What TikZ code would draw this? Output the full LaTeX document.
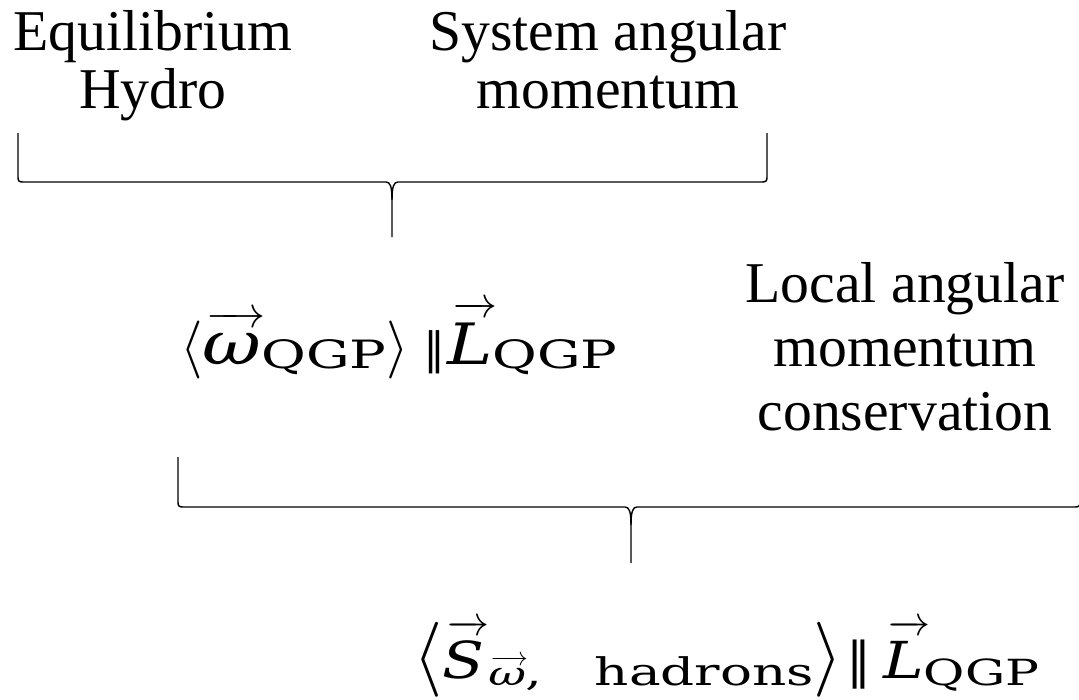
\documentclass[tikz,border=0pt]{standalone}
\usepackage{fontspec}
\DeclareFontShape{OMS}{cmsy}{m}{n}{<->cmsy10}{}
\setmainfont{Liberation Serif}
\newfontfamily\mfont[FakeStretch=1.4]{DejaVu Serif}
\newfontfamily\mifont[FakeStretch=1.2]{DejaVu Serif}
\newfontfamily\parfont{DejaVu Sans}
\newsavebox\vbx
% arrow over a letter: #1 arrow size, #2 gap, #3 shift right, #4 content
\newcommand\varr[4]{\sbox\vbx{#4}\vbox{\offinterlineskip
  \hbox to\wd\vbx{\kern#3\fontsize{#1}{#1}\selectfont\rightarrowfill\kern-#3}\kern#2\box\vbx}}
\newcommand\ang[2]{{\fontsize{#1}{#1}\selectfont$#2$}}
\newcommand\curlybrace[6]{%
  \draw[bracestyle] (#1,#4) -- (#1,#5-5) .. controls (#1,#5-1) and (#1+1,#5) .. (#1+5,#5)
     -- (#3-6,#5) .. controls (#3-2,#5) and (#3,#5+4) .. (#3,#5+18) -- (#3,#6);
  \draw[bracestyle] (#2,#4) -- (#2,#5-5) .. controls (#2,#5-1) and (#2-1,#5) .. (#2-5,#5)
     -- (#3+6,#5) .. controls (#3+2,#5) and (#3,#5+4) .. (#3,#5+18);
}
\tikzset{
  bracestyle/.style={line width=1.4pt, black},
  lbl/.style={inner sep=0pt, align=center, font=\fontsize{57.7}{58}\selectfont},
  formula/.style={inner sep=0pt, anchor=base west},
}
\begin{document}
\begin{tikzpicture}[x=1pt,y=-1pt]
\useasboundingbox (0,0) rectangle (1079,699);
\node[lbl, anchor=north] (eq) at (153,10) {Equilibrium\\Hydro};
\node[lbl, anchor=north] (sys) at (608,10) {System angular\\momentum};
\node[lbl, anchor=north, font=\fontsize{57.7}{64}\selectfont] (loc) at (905,262) {Local angular\\momentum\\conservation};
\curlybrace{18}{767}{392}{133}{182}{237}
\node[formula] (w) at (180,364)
  {\ang{58}{\langle}\varr{44}{5pt}{4pt}{\mifont\itshape\fontsize{60}{60}\selectfont ω}\raisebox{-4pt}{\mfont\fontsize{39}{39}\selectfont QGP}\ang{58}{\rangle}\hspace{14pt}{\parfont\fontsize{44}{44}\selectfont ∥}\hspace{2pt}\varr{44}{5pt}{5pt}{\mifont\itshape\fontsize{57}{57}\selectfont L}\raisebox{-4pt}{\mfont\fontsize{39}{39}\selectfont QGP}};
\curlybrace{178}{1080}{631}{457}{507}{563}
\node[formula] (s) at (413,678)
  {\ang{75}{\langle}\varr{42}{5pt}{5pt}{\mifont\itshape\fontsize{51}{51}\selectfont S}\raisebox{-7pt}{\kern4pt\varr{26}{2pt}{2pt}{\mfont\itshape\fontsize{33}{33}\selectfont ω}\mfont\fontsize{38}{38}\selectfont,\hspace{52pt}hadrons}\ang{75}{\rangle}\hspace{3pt}{\parfont\fontsize{50}{50}\selectfont ∥}\hspace{12pt}\varr{42}{5pt}{5pt}{\mifont\itshape\fontsize{51}{51}\selectfont L}\raisebox{-7pt}{\mfont\fontsize{36}{36}\selectfont QGP}};
\end{tikzpicture}
\end{document}
